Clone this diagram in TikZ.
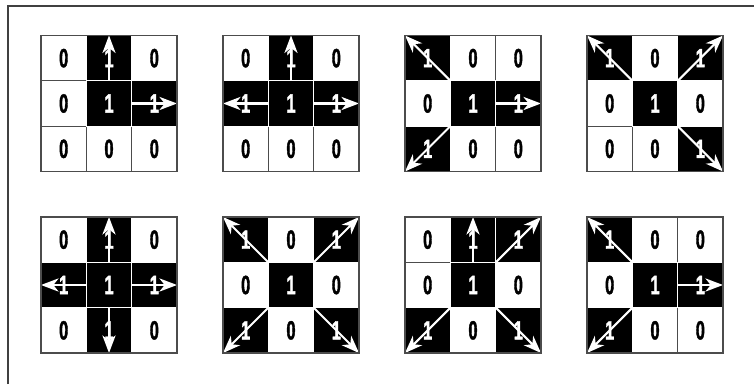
\documentclass[tikz,border=0pt]{standalone}
\usepackage{fontspec}
\newfontfamily\digitfont[FakeStretch=0.62, FakeBold=1.5]{Liberation Sans}
\usetikzlibrary{arrows.meta}

\tikzset{
	cell/.style={line width=0.7pt, minimum size=0.9067cm, inner sep=0pt, outer sep=0pt,
		font=\digitfont\bfseries\fontsize{15}{15}\selectfont},
	offcell/.style={cell, draw=black!70, fill=white, text=black},
	oncell/.style={cell, draw=white, fill=black, text=white},
	ray/.style={white, line width=1.2pt, -{Stealth[length=10pt, width=7.5pt, inset=3pt]}}
}

% #1 Name, #2 Mitte, #3 gesetzte Nachbarn (name/dx/dy/anker)
\newcommand{\mask}[3]{
	\begin{scope}[shift={(#2)}]
		\foreach \nm/\dx/\dy in {nw/-1/1, n/0/1, ne/1/1, w/-1/0, e/1/0, sw/-1/-1, s/0/-1, se/1/-1}
			\node[offcell] (#1\nm) at (\dx*0.9067, \dy*0.9067) {0};
		\node[oncell] (#1c) at (0,0) {1};
		\foreach \nm/\dx/\dy/\an in {#3} {
			\node[oncell] (#1\nm) at (\dx*0.9067, \dy*0.9067) {1};
			\draw[ray] (#1c.\an) -- (#1\nm.\an);
		}
		\draw[black!70, line width=0.7pt] (#1nw.north west) rectangle (#1se.south east);
	\end{scope}
}

\begin{document}
\begin{tikzpicture}
	\useasboundingbox (0,0) rectangle (15.08,7.68);
	% Rahmen
	\draw[black!75, line width=0.8pt] (0.16,0) -- (0.16,7.56) -- (15.08,7.56);

	% obere Reihe
	\mask{a}{2.18,5.61}{n/0/1/north, e/1/0/east}
	\mask{b}{5.82,5.61}{n/0/1/north, w/-1/0/west, e/1/0/east}
	\mask{c}{9.46,5.61}{nw/-1/1/north west, e/1/0/east, sw/-1/-1/south west}
	\mask{d}{13.10,5.61}{nw/-1/1/north west, ne/1/1/north east, se/1/-1/south east}

	% untere Reihe
	\mask{e}{2.18,1.98}{n/0/1/north, w/-1/0/west, e/1/0/east, s/0/-1/south}
	\mask{f}{5.82,1.98}{nw/-1/1/north west, ne/1/1/north east, sw/-1/-1/south west, se/1/-1/south east}
	\mask{g}{9.46,1.98}{n/0/1/north, ne/1/1/north east, sw/-1/-1/south west, se/1/-1/south east}
	\mask{h}{13.10,1.98}{nw/-1/1/north west, e/1/0/east, sw/-1/-1/south west}
\end{tikzpicture}
\end{document}
